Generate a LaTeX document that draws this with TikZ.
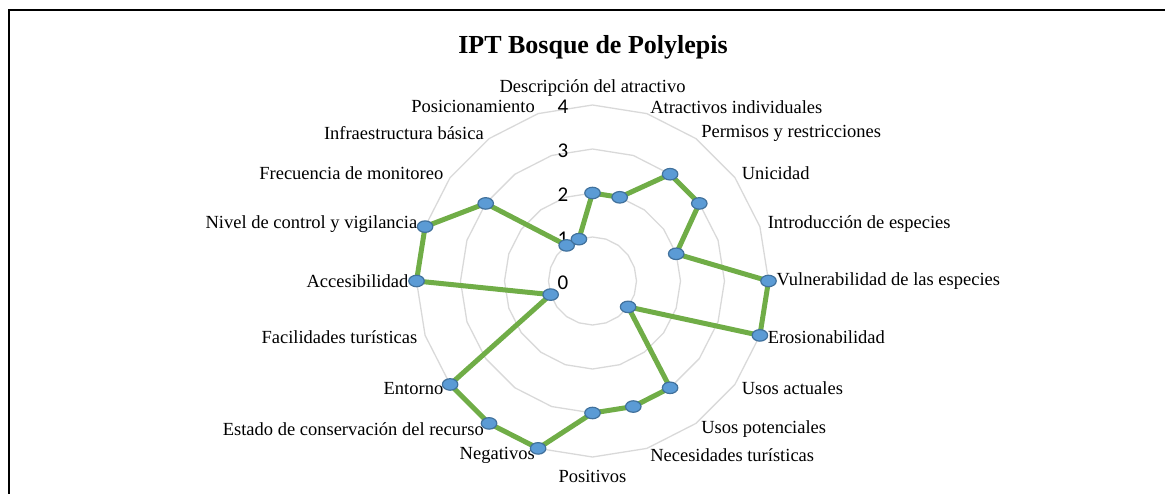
\documentclass[tikz,border=0pt]{standalone}
\usepackage{fontspec}
\setmainfont{Liberation Serif}
\newfontfamily\tickfont{Carlito}
\usetikzlibrary{positioning, calc, backgrounds, shapes.geometric}
\definecolor{seriesgreen}{HTML}{70AD47}
\definecolor{markerblue}{HTML}{5B9BD5}
\definecolor{markerborder}{HTML}{41719C}
\definecolor{gridgray}{HTML}{D9D9D9}
\tikzset{
  frameline/.style={line width=2.2pt,black},
  titletext/.style={font=\bfseries\fontsize{26}{30}\selectfont,inner sep=0pt},
  catlabel/.style={font=\fontsize{18.5}{22}\selectfont,inner sep=1pt},
  ticklabel/.style={font=\tickfont\fontsize{21}{24}\selectfont,anchor=east,inner sep=0pt},
  datadot/.style={ellipse,draw=markerborder,fill=markerblue,line width=1.2pt,minimum width=15.5pt,minimum height=11.5pt,inner sep=0pt}
}

\begin{document}
\begin{tikzpicture}[x=1pt,y=1pt]
  \tikzset{ring/.style={draw=gridgray,line width=1.3pt}};
  \tikzset{series/.style={seriesgreen,line width=5pt,line cap=round}};
  \def\unitR{44};
  \def\labelR{183};

  \useasboundingbox (0,0) rectangle (1165,-493);

  % frame, cut at the bottom and right
  \draw[frameline] (9,-494) -- (9,-10) -- (1166,-10);

  \node[titletext] (title) at (593,-47) {IPT Bosque de Polylepis};

  \begin{scope}[shift={(592.5,-281)}]
    % value axis
    \foreach \v in {0,...,4}
      \node[ticklabel] (t\v) at (-24,\v*\unitR-2) {\v};

    % category labels
    \foreach \txt/\anc/\dy [count=\i from 0] in {Descripción del atractivo/south/0, Atractivos individuales/west/0, Permisos y restricciones/west/0, Unicidad/west/0, Introducción de especies/west/0, Vulnerabilidad de las especies/west/0, Erosionabilidad/west/0, Usos actuales/west/0, Usos potenciales/west/0, Necesidades turísticas/west/0, Positivos/north/-5, Negativos/east/0, Estado de conservación del recurso/east/0, Entorno/east/0, Facilidades turísticas/east/0, Accesibilidad/east/0, Nivel de control y vigilancia/east/0, Frecuencia de monitoreo/east/0, Infraestructura básica/east/0, Posicionamiento/east/0}
      \node[catlabel,anchor=\anc,yshift=\dy] (l\i) at ({90-18*\i}:\labelR) {\txt};

    % data points
    \foreach \v [count=\i from 0] in {2,2,3,3,2,4,4,1,3,3,3,4,4,4,1,4,4,3,1,1}
      \node[datadot] (p\i) at ({90-18*\i}:\v*\unitR) {};

    \begin{scope}[on background layer]
      % rings 1 to 4
      \foreach \r in {1,...,4}
        \draw[ring] (90:\r*\unitR) \foreach \k in {1,...,19} {-- ({90-18*\k}:\r*\unitR)} -- cycle;

      % series line
      \foreach \i in {0,...,19} {
        \pgfmathtruncatemacro\j{mod(\i+1,20)}
        \draw[series] (p\i.center) -- (p\j.center);
      }
    \end{scope}
  \end{scope}
\end{tikzpicture}
\end{document}
